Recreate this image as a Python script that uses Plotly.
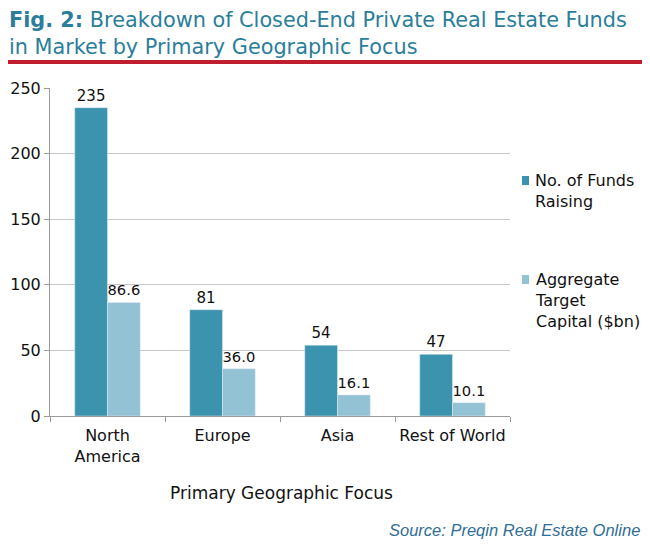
import plotly.graph_objects as go

regioes = ['North<br>America', 'Europe', 'Asia', 'Rest of World']
num_fundos = [235, 81, 54, 47]
capital_alvo = [86.6, 36.0, 16.1, 10.1]
rotulos_capital = ['86.6', '36.0', '16.1', '10.1']
nomes_series = ['No. of Funds<br>Raising', 'Aggregate<br>Target<br>Capital ($bn)']

FONTE = 'DejaVu Sans'
AZUL_ESCURO = '#3C93AD'
AZUL_CLARO = '#93C2D4'
CORES = [AZUL_ESCURO, AZUL_CLARO]

# a pagina tem margem de 8px no body, por isso a figura e um pouco menor
fig = go.Figure()

fig.add_trace(go.Bar(
    x=regioes,
    y=num_fundos,
    name=nomes_series[0],
    marker={'color': AZUL_ESCURO},
    text=[str(v) for v in num_fundos],
    textposition='outside',
    cliponaxis=False,
    textfont={'size': 15, 'color': '#111111', 'family': FONTE},
))
fig.add_trace(go.Bar(
    x=regioes,
    y=capital_alvo,
    name=nomes_series[1],
    marker={'color': AZUL_CLARO},
    text=rotulos_capital,
    textposition='outside',
    cliponaxis=False,
    textfont={'size': 15, 'color': '#111111', 'family': FONTE},
))


def px_x(p):
    return (p - 42) / 460


def px_y(p):
    return (408 - p) / 328


# legenda feita a mao (a legenda do plotly empurra a margem)
legenda_shapes = []
legenda_textos = []
for nome, cor, topo in zip(nomes_series, CORES, [168, 267]):
    legenda_shapes.append({
        'type': 'rect', 'xref': 'paper', 'yref': 'paper',
        'x0': px_x(514), 'x1': px_x(521), 'y0': px_y(topo + 9), 'y1': px_y(topo),
        'fillcolor': cor, 'line': {'width': 0},
    })
    legenda_textos.append({
        'text': nome, 'xref': 'paper', 'yref': 'paper',
        'x': px_x(525), 'y': px_y(topo - 7), 'xanchor': 'left', 'yanchor': 'top',
        'align': 'left', 'showarrow': False,
        'font': {'size': 16, 'color': '#111111', 'family': FONTE},
    })

fig.update_layout(
    width=642,
    height=536,
    paper_bgcolor='white',
    plot_bgcolor='white',
    margin={'l': 42, 'r': 140, 't': 80, 'b': 128},
    barmode='group',
    bargap=0.43,
    bargroupgap=0,
    font={'family': FONTE, 'size': 15, 'color': '#111111'},
    showlegend=False,
    xaxis={
        'showline': True, 'linecolor': '#9a9a9a',
        'ticks': 'outside', 'tickson': 'boundaries', 'ticklen': 5, 'tickcolor': '#9a9a9a',
        'tickfont': {'size': 16},
        'tickangle': 0,
        'ticklabelstandoff': 5,
        'automargin': False,
    },
    yaxis={
        'range': [0, 250],
        'dtick': 50,
        'showline': True, 'linecolor': '#9a9a9a',
        'ticks': 'outside', 'ticklen': 5, 'tickcolor': '#9a9a9a',
        'showgrid': True, 'gridcolor': '#c8c8c8',
        'tickfont': {'size': 16},
        'zeroline': False,
        'automargin': False,
    },
    shapes=[{
        'type': 'line', 'xref': 'paper', 'yref': 'paper',
        'x0': px_x(-5), 'x1': px_x(645), 'y0': px_y(54), 'y1': px_y(54),
        'line': {'color': '#BF1E2E', 'width': 4},
    }] + legenda_shapes,
    annotations=[
        {
            'text': '<b>Fig. 2:</b> Breakdown of Closed-End Private Real Estate Funds<br>in Market by Primary Geographic Focus',
            'xref': 'paper', 'yref': 'paper',
            'x': px_x(-1), 'y': px_y(25.5), 'xanchor': 'left', 'yanchor': 'middle',
            'align': 'left', 'showarrow': False,
            'font': {'size': 20.8, 'color': '#2A7E9B', 'family': FONTE},
        },
        {
            'text': 'Primary Geographic Focus',
            'xref': 'paper', 'yref': 'paper',
            'x': px_x(273), 'y': px_y(485), 'xanchor': 'center', 'yanchor': 'middle',
            'showarrow': False,
            'font': {'size': 17, 'color': '#111111', 'family': FONTE},
        },
        {
            'text': '<i>Source: Preqin Real Estate Online</i>',
            'xref': 'paper', 'yref': 'paper',
            'x': px_x(634), 'y': px_y(522), 'xanchor': 'right', 'yanchor': 'middle',
            'showarrow': False,
            'font': {'size': 16.5, 'color': '#2F6E96', 'family': 'Liberation Sans'},
        },
    ] + legenda_textos,
)

fig.write_html('out.html')
